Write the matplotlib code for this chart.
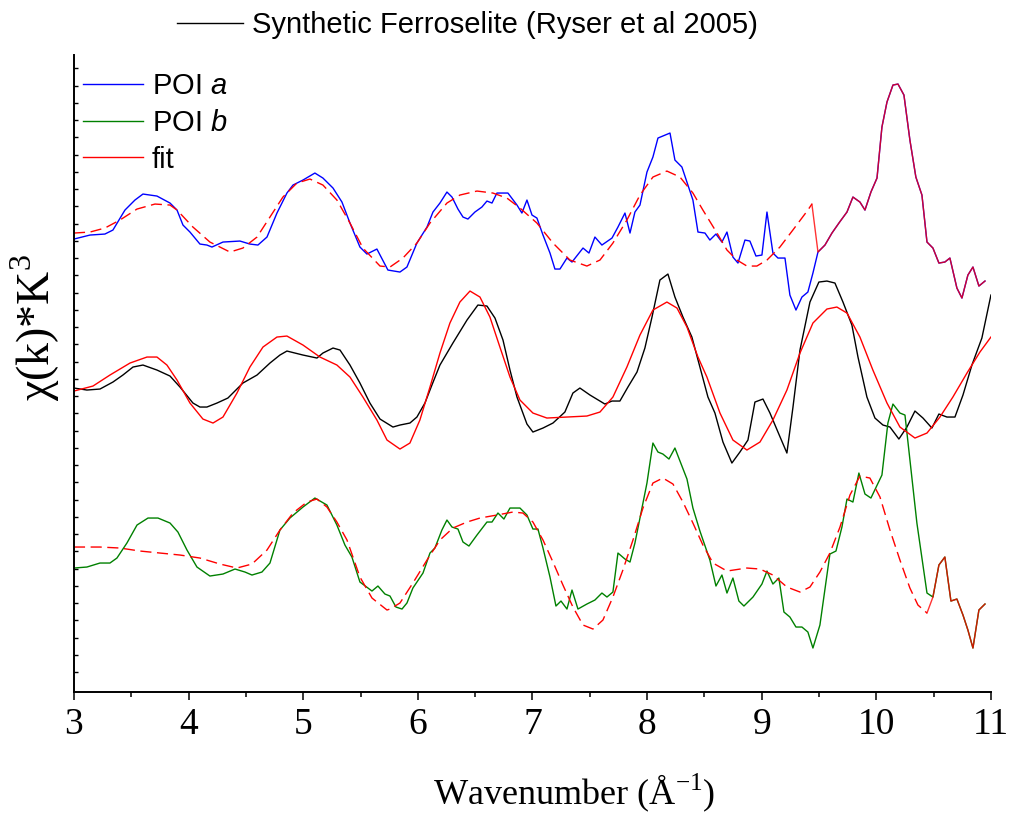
import numpy as np
import matplotlib
matplotlib.use("Agg")
import matplotlib.pyplot as plt
from matplotlib.lines import Line2D

# ---------------- data (k in 1/Angstrom, chi(k)*k^3 in arbitrary stacked units) -------------
poi_a_k = [3.00, 3.14, 3.27, 3.34, 3.445, 3.532, 3.602, 3.724, 3.838, 3.899, 3.951, 4.012,
           4.099, 4.16, 4.204, 4.30, 4.448, 4.535, 4.605, 4.684, 4.771, 4.858, 4.911, 4.998,
           5.102, 5.172, 5.26, 5.338, 5.408, 5.495, 5.556, 5.643, 5.739, 5.844, 5.905, 5.992,
           6.08, 6.132, 6.193, 6.254, 6.298, 6.35, 6.394, 6.437, 6.498, 6.559, 6.603, 6.647,
           6.69, 6.786, 6.865, 6.908, 6.952, 6.996, 7.039, 7.092, 7.153, 7.196, 7.24, 7.301,
           7.345, 7.441, 7.493, 7.545, 7.606, 7.694, 7.746, 7.807, 7.851, 7.894, 7.938, 7.999,
           8.051, 8.095, 8.20, 8.243, 8.304, 8.348, 8.40, 8.444, 8.505, 8.548, 8.601, 8.653,
           8.697, 8.749, 8.793, 8.854, 8.897, 8.95, 9.002, 9.046, 9.098, 9.142, 9.203, 9.246,
           9.299, 9.351, 9.403, 9.447, 9.491, 9.552, 9.613, 9.68, 9.744, 9.796, 9.857, 9.901,
           9.953, 10.006, 10.049, 10.093, 10.145, 10.189, 10.241, 10.293, 10.345, 10.398,
           10.442, 10.494, 10.546, 10.598, 10.642, 10.703, 10.747, 10.799, 10.843, 10.895,
           10.948]
poi_a = [4.53, 4.57, 4.58, 4.62, 4.82, 4.92, 4.98, 4.96, 4.89, 4.82, 4.67, 4.60,
         4.48, 4.47, 4.45, 4.50, 4.51, 4.48, 4.47, 4.55, 4.79, 4.99, 5.07, 5.12,
         5.19, 5.14, 5.04, 4.90, 4.69, 4.45, 4.38, 4.43, 4.22, 4.20, 4.25, 4.49,
         4.65, 4.80, 4.89, 5.00, 4.95, 4.83, 4.75, 4.73, 4.80, 4.85, 4.91, 4.89,
         4.99, 4.99, 4.87, 4.79, 4.92, 4.77, 4.74, 4.57, 4.39, 4.23, 4.23, 4.34,
         4.30, 4.44, 4.39, 4.55, 4.47, 4.54, 4.65, 4.79, 4.59, 4.80, 4.87, 5.20,
         5.35, 5.54, 5.59, 5.32, 5.25, 5.10, 4.92, 4.60, 4.59, 4.52, 4.58, 4.50,
         4.60, 4.35, 4.29, 4.52, 4.51, 4.36, 4.37, 4.80, 4.39, 4.34, 4.34, 3.97,
         3.82, 3.95, 4.00, 4.19, 4.40, 4.47, 4.59, 4.70, 4.80, 4.95, 4.90, 4.82,
         5.00, 5.14, 5.65, 5.90, 6.07, 6.08, 5.97, 5.52, 5.15, 4.97,
         4.50, 4.44, 4.29, 4.30, 4.34, 4.04, 3.94, 4.17, 4.25, 4.06,
         4.11]

fit_a_k = [3.00, 3.14, 3.27, 3.401, 3.55, 3.707, 3.838, 3.899, 4.038, 4.186, 4.361, 4.474,
           4.597, 4.71, 4.823, 4.945, 5.059, 5.172, 5.294, 5.408, 5.521, 5.67, 5.757, 5.87,
           5.992, 6.106, 6.254, 6.367, 6.516, 6.655, 6.777, 6.891, 7.039, 7.179, 7.327, 7.475,
           7.589, 7.702, 7.824, 7.938, 8.051, 8.173, 8.287, 8.40, 8.487, 8.61, 8.697, 8.784,
           8.871, 8.958, 9.046, 9.159, 9.272, 9.403, 9.438,
           9.491, 9.552, 9.613, 9.68, 9.744, 9.796, 9.857, 9.901, 9.953, 10.006, 10.049,
           10.093, 10.145, 10.189, 10.241, 10.293, 10.345, 10.398, 10.442, 10.494, 10.546,
           10.598, 10.642, 10.703, 10.747, 10.799, 10.843, 10.895, 10.948]
fit_a = [4.59, 4.60, 4.64, 4.72, 4.83, 4.88, 4.87, 4.82, 4.65, 4.50, 4.40, 4.44,
         4.55, 4.75, 4.95, 5.09, 5.13, 5.07, 4.92, 4.69, 4.44, 4.26, 4.25, 4.34,
         4.49, 4.69, 4.89, 4.97, 5.01, 4.99, 4.94, 4.84, 4.69, 4.49, 4.32, 4.26,
         4.32, 4.49, 4.72, 4.97, 5.15, 5.21, 5.15, 4.99, 4.82, 4.59, 4.42, 4.32,
         4.26, 4.26, 4.32, 4.45, 4.62, 4.82, 4.88,
         4.40, 4.47, 4.59, 4.70, 4.80, 4.95, 4.90, 4.82, 5.00, 5.14, 5.65,
         5.90, 6.07, 6.08, 5.97, 5.52, 5.15, 4.97, 4.50, 4.44, 4.29,
         4.30, 4.34, 4.04, 3.94, 4.17, 4.25, 4.06, 4.11]

ferro_k = [3.00, 3.113, 3.227, 3.34, 3.427, 3.515, 3.602, 3.724, 3.838, 3.925, 4.038, 4.099,
           4.16, 4.248, 4.343, 4.474, 4.597, 4.71, 4.797, 4.858, 4.998, 5.12, 5.172, 5.26,
           5.321, 5.408, 5.495, 5.582, 5.67, 5.783, 5.844, 5.931, 5.992, 6.062, 6.123, 6.193,
           6.306, 6.429, 6.524, 6.603, 6.673, 6.743, 6.804, 6.865, 6.952, 7.004, 7.092, 7.179,
           7.283, 7.353, 7.414, 7.502, 7.632, 7.694, 7.763, 7.833, 7.912, 7.981, 8.043, 8.112,
           8.182, 8.243, 8.313, 8.391, 8.461, 8.531, 8.592, 8.662, 8.74, 8.81, 8.88, 8.941,
           9.011, 9.072, 9.142, 9.22, 9.273, 9.334, 9.421, 9.499, 9.569, 9.639, 9.709, 9.787,
           9.84, 9.918, 9.988, 10.058, 10.119, 10.197, 10.267, 10.337, 10.407, 10.485, 10.546,
           10.616, 10.686, 10.756, 10.834, 10.921, 11.00]
ferro = [3.04, 3.02, 3.03, 3.10, 3.17, 3.25, 3.27, 3.22, 3.16, 3.05, 2.89, 2.85,
         2.85, 2.89, 2.94, 3.09, 3.17, 3.29, 3.37, 3.41, 3.37, 3.34, 3.39, 3.44,
         3.42, 3.27, 3.09, 2.89, 2.73, 2.65, 2.67, 2.69, 2.75, 2.89, 3.07, 3.27,
         3.49, 3.72, 3.87, 3.86, 3.74, 3.52, 3.22, 2.95, 2.68, 2.60, 2.64, 2.69,
         2.80, 2.99, 3.04, 2.97, 2.88, 2.91, 2.91, 3.05, 3.20, 3.44, 3.75, 4.12,
         4.18, 3.95, 3.75, 3.55, 3.25, 2.95, 2.79, 2.50, 2.29, 2.40, 2.52, 2.90,
         2.93, 2.79, 2.60, 2.39, 2.85, 3.42, 3.90, 4.10, 4.11, 4.09, 3.90, 3.67,
         3.35, 2.95, 2.74, 2.67, 2.65, 2.53, 2.65, 2.81, 2.74, 2.64, 2.78,
         2.75, 2.75, 2.97, 3.27, 3.54, 3.97]

fit_ferro_k = [3.00, 3.166, 3.314, 3.489, 3.637, 3.724, 3.811, 3.899, 4.012, 4.125, 4.213, 4.30,
               4.422, 4.535, 4.649, 4.771, 4.858, 4.998, 5.146, 5.294, 5.408, 5.521, 5.643, 5.731,
               5.844, 5.931, 6.018, 6.106, 6.193, 6.28, 6.367, 6.455, 6.542, 6.629, 6.716, 6.804,
               6.891, 7.004, 7.126, 7.301, 7.475, 7.589, 7.702, 7.824, 7.938, 8.051, 8.173, 8.261,
               8.348, 8.444, 8.522, 8.636, 8.749, 8.871, 8.985, 9.098, 9.22, 9.334, 9.447, 9.569,
               9.656, 9.744, 9.857, 9.97, 10.093, 10.206, 10.337, 10.442, 10.555, 10.668, 10.791,
               10.904, 11.00]
fit_ferro = [3.01, 3.06, 3.17, 3.29, 3.35, 3.35, 3.27, 3.12, 2.89, 2.73, 2.69, 2.75,
             2.99, 3.25, 3.45, 3.55, 3.56, 3.47, 3.35, 3.27, 3.15, 2.95, 2.72, 2.52,
             2.43, 2.49, 2.72, 3.05, 3.39, 3.69, 3.90, 4.01, 3.95, 3.75, 3.45, 3.15,
             2.92, 2.79, 2.74, 2.75, 2.76, 2.80, 2.95, 3.25, 3.57, 3.82, 3.90, 3.84,
             3.65, 3.35, 3.15, 2.79, 2.52, 2.42, 2.50, 2.72, 3.02, 3.39, 3.69, 3.83,
             3.85, 3.79, 3.55, 3.22, 2.89, 2.65, 2.54, 2.59, 2.75, 2.95, 3.19,
             3.40, 3.55]

poi_b_k = [3.00, 3.113, 3.227, 3.314, 3.375, 3.462, 3.55, 3.646, 3.733, 3.838, 3.907, 3.986,
           4.073, 4.186, 4.30, 4.405, 4.492, 4.553, 4.64, 4.71, 4.797, 4.884, 4.998, 5.102,
           5.207, 5.294, 5.364, 5.425, 5.495, 5.60, 5.652, 5.713, 5.757, 5.809, 5.862, 5.905,
           5.957, 6.045, 6.106, 6.149, 6.21, 6.254, 6.298, 6.35, 6.394, 6.446, 6.516, 6.603,
           6.647, 6.699, 6.751, 6.804, 6.891, 6.952, 7.004, 7.048, 7.092, 7.153, 7.205, 7.249,
           7.301, 7.345, 7.397, 7.475, 7.545, 7.606, 7.65, 7.702, 7.746, 7.807, 7.851, 7.894,
           7.938, 7.999, 8.051, 8.095, 8.138, 8.191, 8.243, 8.304, 8.348, 8.40, 8.461, 8.548,
           8.601, 8.653, 8.697, 8.749, 8.801, 8.845, 8.924, 9.002, 9.046, 9.098, 9.15, 9.194,
           9.246, 9.299, 9.351, 9.403, 9.447, 9.508, 9.595, 9.648, 9.70, 9.744, 9.796, 9.848,
           9.901, 9.953, 10.049, 10.101, 10.145, 10.206, 10.25, 10.354, 10.442, 10.494, 10.546,
           10.598, 10.651, 10.703, 10.756, 10.799, 10.843, 10.895, 10.948]
poi_b = [1.24, 1.25, 1.29, 1.29, 1.34, 1.49, 1.67, 1.74, 1.74, 1.69, 1.60, 1.42,
         1.25, 1.16, 1.18, 1.23, 1.20, 1.17, 1.20, 1.29, 1.62, 1.74, 1.85, 1.94,
         1.87, 1.67, 1.47, 1.35, 1.10, 1.01, 1.06, 0.98, 0.96, 0.85, 0.83, 0.89,
         1.04, 1.19, 1.39, 1.44, 1.62, 1.72, 1.65, 1.63, 1.50, 1.46, 1.57, 1.70,
         1.70, 1.79, 1.73, 1.84, 1.84, 1.77, 1.63, 1.63, 1.44, 1.15, 0.86, 0.91,
         0.83, 1.02, 0.83, 0.88, 0.92, 0.99, 0.95, 1.00, 1.39, 1.33, 1.30, 1.49,
         1.74, 2.09, 2.49, 2.40, 2.38, 2.33, 2.44, 2.26, 2.13, 1.84, 1.61, 1.32,
         1.06, 1.17, 0.99, 1.14, 0.91, 0.86, 0.95, 1.08, 1.21, 1.08, 1.14, 0.80,
         0.75, 0.65, 0.65, 0.60, 0.44, 0.67, 1.38, 1.41, 1.65, 1.93, 1.90, 2.19,
         1.98, 1.94, 2.17, 2.69, 2.88, 2.79, 2.77, 1.69, 0.99, 0.95, 1.27,
         1.35, 0.91, 0.93, 0.77, 0.62, 0.44, 0.82, 0.88]

fit_b_k = [3.00, 3.227, 3.401, 3.576, 3.75, 3.925, 4.099, 4.274, 4.422, 4.553, 4.684, 4.797,
           4.911, 5.033, 5.12, 5.207, 5.294, 5.382, 5.495, 5.60, 5.731, 5.757, 5.844, 5.957,
           6.08, 6.193, 6.306, 6.429, 6.542, 6.69, 6.83, 6.917, 7.004, 7.092, 7.179, 7.266,
           7.353, 7.441, 7.528, 7.615, 7.702, 7.789, 7.877, 7.964, 8.051, 8.138, 8.226, 8.313,
           8.40, 8.487, 8.575, 8.697, 8.871, 8.985, 9.098, 9.22, 9.334, 9.421, 9.508, 9.595,
           9.683, 9.77, 9.857, 9.944, 10.032, 10.119, 10.206, 10.293, 10.363, 10.442,
           10.494, 10.546, 10.598, 10.651, 10.703, 10.756, 10.799, 10.843, 10.895, 10.948]
fit_b = [1.45, 1.45, 1.44, 1.41, 1.39, 1.37, 1.34, 1.28, 1.24, 1.28, 1.42, 1.62,
         1.79, 1.90, 1.93, 1.85, 1.70, 1.52, 1.15, 0.94, 0.82, 0.83, 0.89, 1.09,
         1.32, 1.52, 1.64, 1.70, 1.74, 1.77, 1.80, 1.79, 1.70, 1.52, 1.30, 1.07,
         0.85, 0.67, 0.63, 0.72, 0.95, 1.22, 1.52, 1.84, 2.09, 2.14, 2.08, 1.90,
         1.69, 1.47, 1.29, 1.21, 1.24, 1.23, 1.17, 1.05, 1.00, 1.05, 1.20, 1.39,
         1.65, 1.97, 2.16, 2.14, 1.95, 1.62, 1.32, 1.04, 0.87, 0.79,
         0.95, 1.27, 1.35, 0.91, 0.93, 0.77, 0.62, 0.44, 0.82, 0.88]

# k beyond which the fit curves are drawn solid (fit coincides with data)
fit_a_solid_from = 9.438
fit_b_solid_from = 10.442

x_ticks = [3, 4, 5, 6, 7, 8, 9, 10, 11]

# ---------------- styling ----------------
plt.rcParams['mathtext.fontset'] = 'custom'
plt.rcParams['mathtext.rm'] = 'Liberation Serif'
plt.rcParams['mathtext.it'] = 'Liberation Sans:italic'
plt.rcParams['font.family'] = ['Liberation Sans', 'DejaVu Sans']

BLUE = '#0000ff'
GREEN = '#008000'
RED = '#ff0000'
BLACK = '#000000'
LW = 1.0
DASH = (0, (8, 4))

fig = plt.figure(figsize=(10.09, 8.18), dpi=100)
ax = fig.add_axes([0.0733, 0.1540, 0.9088, 0.7787])


def split(k, v, at):
    k = np.asarray(k); v = np.asarray(v)
    m1 = k <= at + 1e-9
    m2 = k >= at - 1e-9
    return k[m1], v[m1], k[m2], v[m2]


# data curves
ax.plot(poi_a_k, poi_a, color=BLUE, lw=LW)
ax.plot(ferro_k, ferro, color=BLACK, lw=LW)
ax.plot(poi_b_k, poi_b, color=GREEN, lw=LW)

# fits
ka1, va1, ka2, va2 = split(fit_a_k, fit_a, fit_a_solid_from)
ax.plot(ka1, va1, color=RED, lw=LW, linestyle=DASH)
ax.plot(ka2, va2, color=RED, lw=LW, alpha=0.8)
ax.plot(fit_ferro_k, fit_ferro, color=RED, lw=LW)
kb1, vb1, kb2, vb2 = split(fit_b_k, fit_b, fit_b_solid_from)
ax.plot(kb1, vb1, color=RED, lw=LW, linestyle=DASH)
ax.plot(kb2, vb2, color=RED, lw=LW, alpha=0.8)

ax.set_xlim(3, 11)
ax.set_ylim(0, 6.37)
ax.spines['top'].set_visible(False)
ax.spines['right'].set_visible(False)
for s in ('left', 'bottom'):
    ax.spines[s].set_linewidth(1.4)

ax.set_xticks(x_ticks)
ax.set_xticks(np.arange(3.5, 11, 1.0), minor=True)
ax.tick_params(axis='x', which='major', direction='out', length=6, width=1.1, pad=5,
               labelsize=27)
ax.tick_params(axis='x', which='minor', direction='out', length=3.6, width=1.1)
for lab in ax.get_xticklabels():
    lab.set_family('Liberation Serif')

ax.set_yticks(np.arange(0.2, 6.37, 0.1725))
ax.tick_params(axis='y', which='major', direction='in', length=3, width=1.0,
               labelleft=False)

ax.set_xlabel('Wavenumber (Å$^{-1}$)', family='Liberation Serif', fontsize=26)
ax.xaxis.set_label_coords(0.545, -0.125)
ax.set_ylabel('χ(k)*K$^{3}$', family='Liberation Serif', fontsize=33)
ax.yaxis.set_label_coords(-0.0135, 0.573)

# legends
h_ferro = Line2D([], [], color=BLACK, lw=LW)
fig.legend([h_ferro], ['Synthetic Ferroselite (Ryser et al 2005)'], loc='center left',
           bbox_to_anchor=(177 / 1009, 1 - 25 / 818), frameon=False, fontsize=21,
           handlelength=2.25, handletextpad=0.32, borderpad=0, borderaxespad=0)

hs = [Line2D([], [], color=BLUE, lw=LW), Line2D([], [], color=GREEN, lw=LW),
      Line2D([], [], color=RED, lw=LW)]
fig.legend(hs, ['POI $\\mathit{a}$', 'POI $\\mathit{b}$', 'fit'], loc='upper left',
           bbox_to_anchor=(83 / 1009, 1 - 72 / 818), frameon=False, fontsize=21,
           handlelength=2.05, handletextpad=0.31, borderpad=0, borderaxespad=0,
           labelspacing=0.30)

fig.savefig('out.png', dpi=100)
